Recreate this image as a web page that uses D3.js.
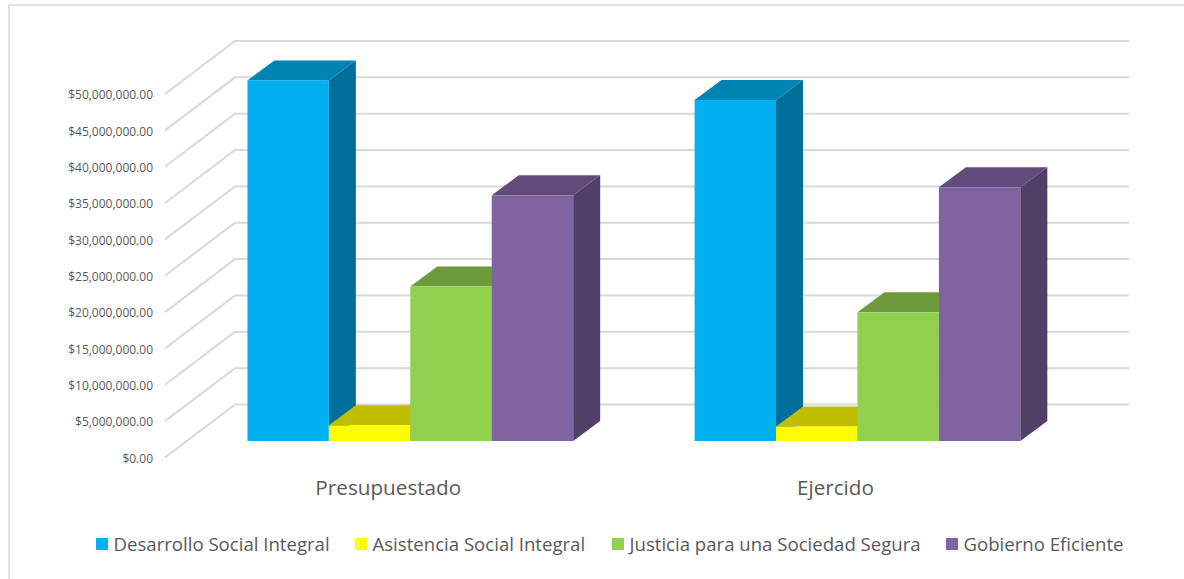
<!DOCTYPE html>
<html>
<head>
<meta charset="utf-8">
<script src="https://cdnjs.cloudflare.com/ajax/libs/d3/7.8.5/d3.min.js"></script>
<style>
  body { margin: 0; background: #fff; }
  text { font-family: "Open Sans", sans-serif; fill: #595959; }
</style>
</head>
<body>
<div id="chart"></div>
<script>
var categories = ["Presupuestado", "Ejercido"];
var seriesNames = ["Desarrollo Social Integral", "Asistencia Social Integral", "Justicia para una Sociedad Segura", "Gobierno Eficiente"];
var desarrollo = [49600000, 46900000];
var asistencia = [2150000, 2000000];
var justicia = [21250000, 17700000];
var gobierno = [33800000, 34900000];
var seriesValues = [desarrollo, asistencia, justicia, gobierno];
var yTicks = [0, 5000000, 10000000, 15000000, 20000000, 25000000, 30000000, 35000000, 40000000, 45000000, 50000000];

var frontColors = ["#00b0f0", "#ffff00", "#92d050", "#8064a2"];
var topColors = ["#0084b4", "#bfbf00", "#6e9c3c", "#604b7a"];
var sideColors = ["#006f9b", "#a0a000", "#5c8232", "#503f66"];

var svgWidth = 1184;
var svgHeight = 579;

var svg = d3.select("#chart")
  .append("svg")
  .attr("width", svgWidth)
  .attr("height", svgHeight)
  .style("display", "block");

// chart frame
svg.append("rect")
  .attr("x", 9)
  .attr("y", 5)
  .attr("width", 1200)
  .attr("height", 600)
  .attr("fill", "none")
  .attr("stroke", "#d9d9d9")
  .attr("stroke-width", 1.5);

// front plane of the walls
var yScale = d3.scaleLinear().domain([0, 50000000]).range([457.5, 94]);
var wallX = 165;
var wallDx = 70;
var wallDy = 53;
var wallRight = 1129;

yTicks.forEach(function(t) {
  svg.append("path")
    .attr("d", `M${wallX},${yScale(t)}L${wallX + wallDx},${yScale(t) - wallDy}H${wallRight}`)
    .attr("fill", "none")
    .attr("stroke", "#d9d9d9")
    .attr("stroke-width", 2);
});

var leftAxis = d3.axisLeft(yScale)
  .tickValues(yTicks)
  .tickSize(0)
  .tickPadding(12)
  .tickFormat(d3.format("$,.2f"));

var axisGroup = svg.append("g")
  .attr("transform", `translate(${wallX}, 1)`)
  .call(leftAxis);
axisGroup.select(".domain").remove();
axisGroup.selectAll("text")
  .style("font-family", '"Open Sans", sans-serif')
  .style("font-size", "12px")
  .style("fill", "#595959");

// bars sit part way into the floor
var barBase = 441;
var barDx = 27;
var barDy = 20;
var barUnit = yScale(0) - yScale(1);

var xGroup = d3.scaleBand()
  .domain(categories)
  .range([186.75, 1081])
  .paddingInner(0.2715)
  .paddingOuter(0.1357);

var xBar = d3.scaleBand()
  .domain(seriesNames)
  .range([0, xGroup.bandwidth()]);

categories.forEach(function(cat, c) {
  seriesNames.forEach(function(name, s) {
    var x = xGroup(cat) + xBar(name);
    var w = xBar.bandwidth();
    var h = seriesValues[s][c] * barUnit;
    var top = barBase - h;

    svg.append("path")
      .attr("d", `M${x + w},${barBase}V${top}l${barDx},${-barDy}V${barBase - barDy}Z`)
      .attr("fill", sideColors[s]);
    svg.append("path")
      .attr("d", `M${x},${top}l${barDx},${-barDy}h${w}l${-barDx},${barDy}Z`)
      .attr("fill", topColors[s]);
    svg.append("rect")
      .attr("x", x)
      .attr("y", top)
      .attr("width", w)
      .attr("height", h)
      .attr("fill", frontColors[s]);
  });
});

// category labels
svg.selectAll(".cat")
  .data(categories)
  .enter()
  .append("text")
  .attr("class", "cat")
  .attr("x", d => xGroup(d) + xGroup.bandwidth() / 2 - 22)
  .attr("y", 495)
  .attr("text-anchor", "middle")
  .attr("font-size", "20.7px")
  .text(d => d);

// legend
var legendX = [96, 355, 612, 946];
seriesNames.forEach(function(name, s) {
  svg.append("rect")
    .attr("x", legendX[s])
    .attr("y", 538)
    .attr("width", 12)
    .attr("height", 12)
    .attr("fill", frontColors[s]);
  svg.append("text")
    .attr("x", legendX[s] + 17.5)
    .attr("y", 550.5)
    .attr("font-size", "18.6px")
    .text(name);
});
</script>
</body>
</html>
